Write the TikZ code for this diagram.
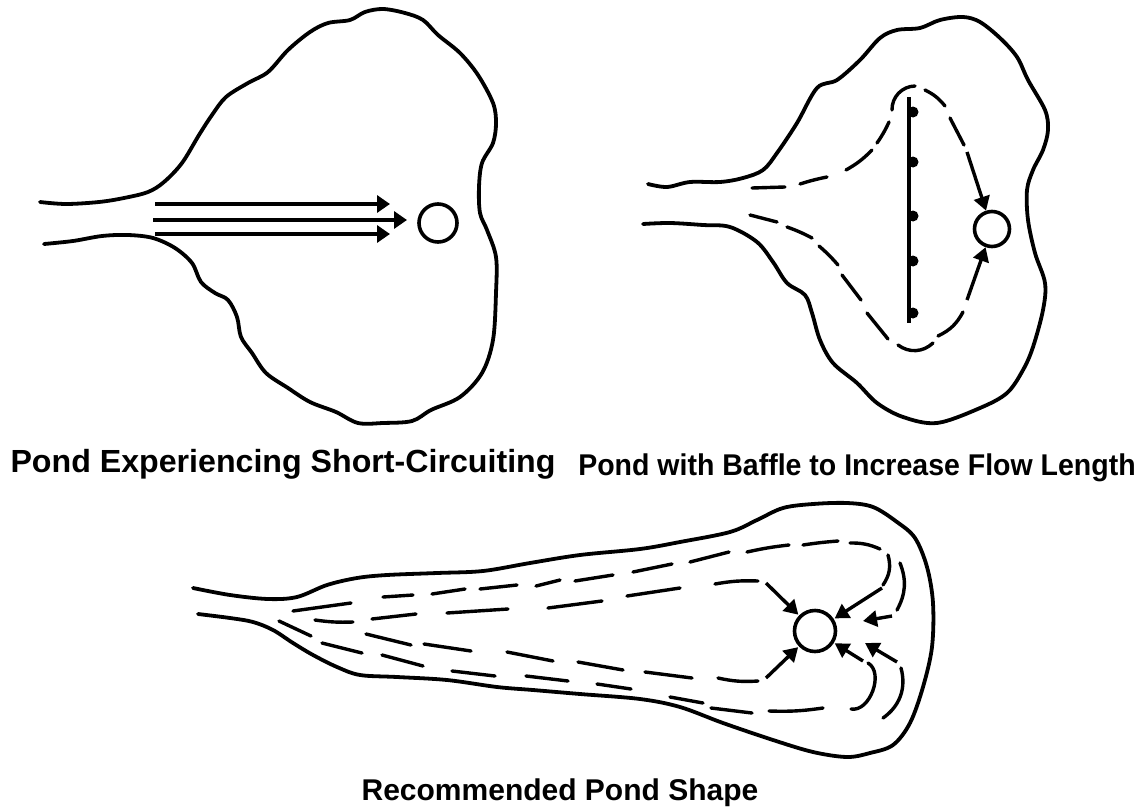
\documentclass[tikz,border=0pt]{standalone}
\usepackage{fontspec}
\setmainfont{Liberation Sans}
\usetikzlibrary{arrows.meta}
\tikzset{
  >={Triangle[length=13pt,width=17pt]},
  shore/.style={draw=black,line width=3.8pt,line cap=round,line join=round},
  swale/.style={draw=black,line width=3.4pt,line cap=round},
  flow/.style={->,draw=black,line width=3.8pt},
  flowd/.style={->,draw=black,line width=3.4pt,>={Triangle[length=14pt,width=16pt]}},
  outlet/.style={circle,draw=black,line width=3.6pt,fill=white,inner sep=0pt,minimum size=38pt},
  peg/.style={circle,fill=black,inner sep=0pt,minimum size=11pt},
  ptitle/.style={text=black,inner sep=0pt},
}
\begin{document}
\begin{tikzpicture}[x=1pt,y=-1pt]
  \useasboundingbox (0,0) rectangle (1138,806);
  % short-circuiting pond
  \draw[shore] plot[smooth,tension=0.55] coordinates {(40,202) (66,204) (99,202) (124,198) (148,192) (164,182) (182,163) (199,135) (212,115) (226,97) (248,83) (268,72) (288,50) (310,32) (328,23) (350,20) (365,12) (383,9) (405,13) (423,20) (438,35) (460,53) (478,75) (493,103) (496,123) (493,143) (482,163) (479,187) (480,213) (487,230) (496,257) (496,293) (493,340) (482,373) (460,397) (431,410) (412,421) (383,423) (358,423) (336,412) (310,402) (288,388) (266,373) (252,353) (241,337) (237,317) (228,300) (215,293) (201,282) (192,263) (175,248) (153,238) (128,235) (102,236) (73,241) (44,244)};
  \node[outlet] (outa) at (438,223) {};
  \coordinate (tipa1) at (390,204);
  \coordinate (tipa2) at (407,220);
  \coordinate (tipa3) at (390,234);
  \draw[flow] (155,204) -- (tipa1);
  \draw[flow] (153,220) -- (tipa2);
  \draw[flow] (155,234) -- (tipa3);
  % baffle pond
  \draw[shore] plot[smooth,tension=0.55] coordinates {(648,184) (667,187) (690,182) (720,182) (743,178) (763,170) (777,153) (797,123) (817,88) (837,80) (860,60) (880,38) (897,30) (920,28) (940,20) (963,17) (980,22) (1000,38) (1017,57) (1028,80) (1045,110) (1048,130) (1043,150) (1033,170) (1027,190) (1028,220) (1035,253) (1045,283) (1043,310) (1033,347) (1023,370) (1007,393) (980,408) (937,423) (903,417) (877,403) (857,383) (833,363) (820,340) (812,313) (805,295) (787,283) (773,262) (757,242) (730,227) (703,225) (670,223) (643,224)};
  \node[outlet,minimum size=35pt] (outb) at (992,229) {};
  \draw[draw=black,line width=3.6pt] (909,97) -- (909,323);
  \foreach \y [count=\i] in {112,162,216,261,313}
    \node[peg] (peg\i) at (913,\y) {};
  \foreach \xa/\ya/\xb/\yb/\bnd in {752/188/785/187/0,800/184/827/177/3,846/170/872/150/-8,877/143/889/122/-5,892/110/915/86/45,925/90/945/106/12,950/118/964/145/0,
    750/215/777/222/0,787/227/812/238/4,819/246/838/265/4,842/275/861/300/0,867/313/888/339/0,898/345/933/343/-40,938/336/963/312/-18}
    \draw[swale] (\xa,\ya) to[bend left=\bnd] (\xb,\yb);
  \draw[flowd] (967,152) -- (outb);
  \draw[flowd] (967,300) -- (outb);
  % recommended pond
  \draw[shore] plot[smooth,tension=0.55] coordinates {(193,588) (230,595) (268,599) (297,597) (327,585) (357,578) (387,575) (437,573) (483,571) (530,563) (580,555) (640,549) (680,542) (730,532) (757,520) (783,508) (813,504) (847,503) (873,507) (897,522) (915,538) (927,567) (933,603) (932,647) (923,687) (910,723) (893,745) (870,753) (847,757) (813,752) (773,740) (723,723) (680,707) (640,699) (580,694) (533,690) (497,687) (447,680) (397,677) (360,675) (337,667) (313,655) (293,643) (273,630) (253,622) (230,618) (198,614)};
  \node[outlet,minimum size=41pt] (outc) at (815,631) {};
  \foreach \xa/\ya/\xb/\yb/\bnd in {293/611/351/603/0,383/597/413/595/0,432/594/465/589/0,480/589/517/585/0,536/586/560/580/0,575/581/613/575/0,633/572/672/564/0,690/562/729/552/0,747/552/789/545/3,803/545/838/541/2,850/543/880/549/12,
    888/555/883/585/25,900/563/897/610/25,
    315/620/353/622/-5,372/619/416/614/0,447/613/508/609/0,548/608/602/601/0,627/596/680/588/0,715/584/758/581/6,
    279/621/311/636/0,322/643/362/653/0,366/634/411/645/0,382/655/423/666/0,424/644/471/651/0,452/671/495/676/0,507/652/553/661/0,526/676/568/681/0,578/662/623/670/0,597/684/631/689/0,645/672/692/678/0,718/678/758/681/-8,670/697/703/703/0,711/708/752/713/0,769/711/823/708/-5,
    868/663/851/709/80,901/668/883/718/35}
    \draw[swale] (\xa,\ya) to[bend left=\bnd] (\xb,\yb);
  \foreach \xa/\ya in {766/583,882/588,766/678,863/661}
    \draw[flowd,shorten >=1pt] (\xa,\ya) -- (outc);
  \coordinate (tipc1) at (863,621);
  \coordinate (tipc2) at (865,643);
  \draw[flowd] (892,616) -- (tipc1);
  \draw[flowd] (897,662) -- (tipc2);
  % captions
  \node[ptitle,font=\fontsize{32}{32}\selectfont\bfseries,xscale=1.005] (capa) at (283,464) {Pond Experiencing Short-Circuiting};
  \node[ptitle,font=\fontsize{30}{30}\selectfont\bfseries,xscale=0.95] (capb) at (857,468) {Pond with Baffle to Increase Flow Length};
  \node[ptitle,font=\fontsize{30}{30}\selectfont\bfseries] (capc) at (560,793) {Recommended Pond Shape};
\end{tikzpicture}
\end{document}
